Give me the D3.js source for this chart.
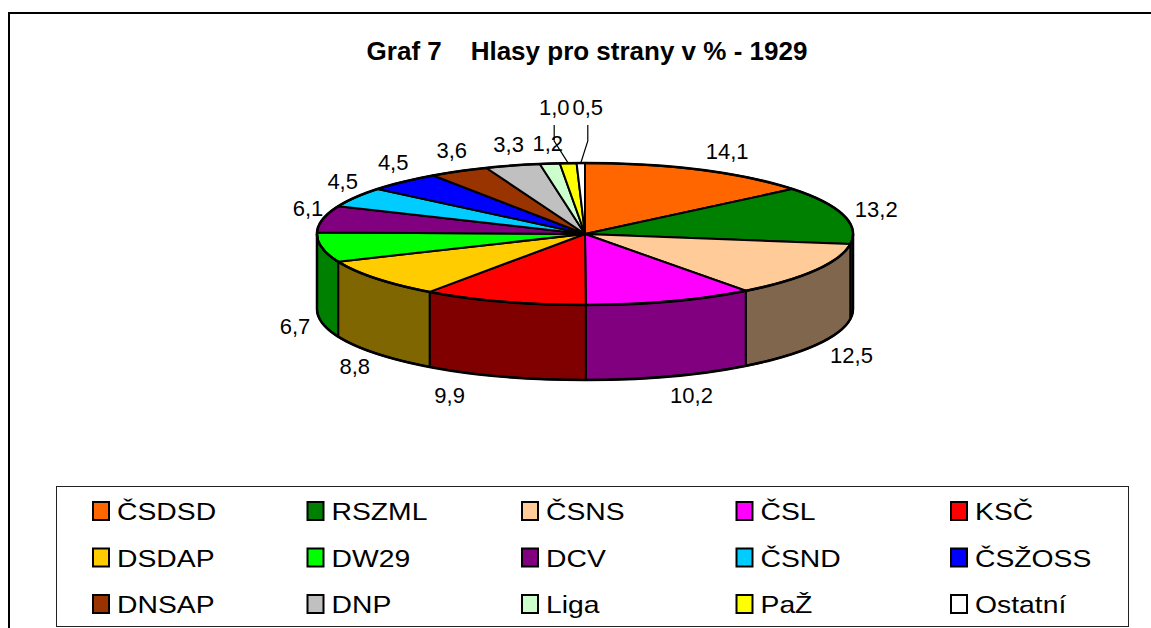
<!DOCTYPE html>
<html>
<head>
<meta charset="utf-8">
<script src="https://cdn.jsdelivr.net/npm/d3@7"></script>
<style>
  html, body { margin: 0; padding: 0; background: #fff; }
  svg { display: block; font-family: "Liberation Sans", Arial, sans-serif; }
</style>
</head>
<body>
<svg id="chart" width="1151" height="628"></svg>
<script>
const title = "Graf 7    Hlasy pro strany v % - 1929";
const categories = ["ČSDSD","RSZML","ČSNS","ČSL","KSČ","DSDAP","DW29","DCV","ČSND","ČSŽOSS","DNSAP","DNP","Liga","PaŽ","Ostatní"];
const values = [14.1,13.2,12.5,10.2,9.9,8.8,6.7,6.1,4.5,4.5,3.6,3.3,1.2,1.0,0.5];
const colors = ["#FF6600","#008000","#FFCC99","#FF00FF","#FF0000","#FFCC00","#00FF00","#800080","#00CCFF","#0000FF","#993300","#C0C0C0","#CCFFCC","#FFFF00","#FFFFFF"];
const valueLabels = values.map(v => v.toFixed(1).replace(".", ","));

const svg = d3.select("#chart");
const W = 1151, H = 628;

// chart frame
svg.append("rect").attr("x", 9).attr("y", 13).attr("width", W + 50).attr("height", H + 50)
  .attr("fill", "#fff").attr("stroke", "#000").attr("stroke-width", 2);

// title
svg.append("text").attr("x", 587).attr("y", 60).attr("text-anchor", "middle")
  .style("white-space", "pre").attr("xml:space", "preserve")
  .attr("font-size", 26).attr("font-weight", "bold").text(title);

// pie geometry
const cx = 585, cy = 234, rx = 268, ry = 71, depth = 75;
const pie = d3.pie().sort(null).value(d => d).startAngle(0).endAngle(2 * Math.PI);
const arcs = pie(values);
const P = (t, dy = 0) => [cx + rx * Math.sin(t), cy - ry * Math.cos(t) + dy];
const pt = p => p[0].toFixed(2) + "," + p[1].toFixed(2);
const half = c => { const r = d3.rgb(c); return d3.rgb(r.r * 0.5, r.g * 0.5, r.b * 0.5).formatHex(); };

const g = svg.append("g");

// side walls (front half only)
arcs.forEach((a, i) => {
  const a0 = Math.max(a.startAngle, Math.PI / 2), a1 = Math.min(a.endAngle, 3 * Math.PI / 2);
  if (a1 <= a0) return;
  const d = `M${pt(P(a0))} A${rx},${ry} 0 0 1 ${pt(P(a1))} L${pt(P(a1, depth))} A${rx},${ry} 0 0 0 ${pt(P(a0, depth))} Z`;
  g.append("path").attr("d", d).attr("fill", half(colors[i]))
    .attr("stroke", "#000").attr("stroke-width", 2).attr("stroke-linejoin", "round");
});

// top faces
arcs.forEach((a, i) => {
  const large = (a.endAngle - a.startAngle) > Math.PI ? 1 : 0;
  const d = `M${cx},${cy} L${pt(P(a.startAngle))} A${rx},${ry} 0 ${large} 1 ${pt(P(a.endAngle))} Z`;
  g.append("path").attr("d", d).attr("fill", colors[i])
    .attr("stroke", "#000").attr("stroke-width", 2).attr("stroke-linejoin", "round");
});

// outer rim emphasis
g.append("path")
  .attr("d", `M${pt(P(0))} A${rx},${ry} 0 1 1 ${pt(P(Math.PI))} A${rx},${ry} 0 1 1 ${pt(P(0))}`)
  .attr("fill", "none").attr("stroke", "#000").attr("stroke-width", 2.5);
g.append("path")
  .attr("d", `M${pt(P(Math.PI/2))} L${pt(P(Math.PI/2, depth))} A${rx},${ry} 0 0 1 ${pt(P(3*Math.PI/2, depth))} L${pt(P(3*Math.PI/2))}`)
  .attr("fill", "none").attr("stroke", "#000").attr("stroke-width", 2.5);

// data labels
const labelNudge = { "9,9": -46 };
const leaderLabels = { "1,0": -14, "0,5": 7 };
const lg = svg.append("g").attr("font-size", 22);
arcs.forEach((a, i) => {
  const lab = valueLabels[i];
  const t = (a.startAngle + a.endAngle) / 2;
  const s = Math.sin(t), c = Math.cos(t);
  const txt = lg.append("text").attr("text-anchor", "middle").text(lab);
  if (lab in leaderLabels) {
    const e = P(t);
    const lx = e[0] + leaderLabels[lab];
    const ly = cy - ry - 56;
    txt.attr("x", lx).attr("y", ly).attr("dy", "0.35em");
    lg.append("path")
      .attr("d", `M${lx},${ly + 18} L${lx},${ly + 34} L${pt(e)}`)
      .attr("fill", "none").attr("stroke", "#000").attr("stroke-width", 1.2);
    return;
  }
  const w = txt.node().getComputedTextLength();
  const topLeft = s < 0 && c > 0;
  const L = s > 0 ? 10 + 40 * c * c : (topLeft ? 0 : 12);
  const x = cx + (rx + L) * s + s * w / 2 + (labelNudge[lab] || 0);
  const y = cy - (ry + 20) * c + (c < 0 ? depth : 0) - (topLeft ? 7 * Math.abs(s) : 0);
  txt.attr("x", x).attr("y", y).attr("dy", "0.35em");
});

// legend
svg.append("rect").attr("x", 56.5).attr("y", 486.5).attr("width", 1072).attr("height", 140)
  .attr("fill", "#fff").attr("stroke", "#222").attr("stroke-width", 1);
const colStep = 214.5, rowStep = 46.5;
categories.forEach((name, i) => {
  const col = i % 5, row = Math.floor(i / 5);
  const x0 = 92 + col * colStep, yc = 511 + row * rowStep;
  svg.append("rect").attr("x", x0 + 1).attr("y", yc - 9).attr("width", 16).attr("height", 18)
    .attr("fill", colors[i]).attr("stroke", "#000").attr("stroke-width", 2);
  svg.append("text").attr("transform", `translate(${x0 + 25},${yc + 9}) scale(1.18,1)`)
    .attr("font-size", 24).text(name);
});
</script>
</body>
</html>
